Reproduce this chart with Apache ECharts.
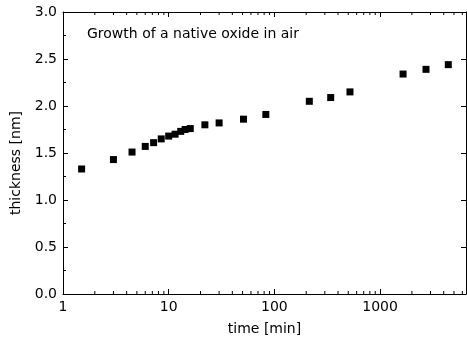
<!DOCTYPE html>
<html>
<head>
<meta charset="utf-8">
<script src="https://cdn.jsdelivr.net/npm/echarts@6/dist/echarts.min.js"></script>
<style>html,body{margin:0;padding:0;background:#fff}#c{width:467px;height:341px}</style>
</head>
<body>
<div id="c"></div>
<script>
var timeMin = [1.5, 3, 4.5, 6, 7.2, 8.5, 10, 11.5, 13, 14.3, 16, 22, 30, 51, 83, 214, 341, 519, 1650, 2720, 4420];
var thicknessNm = [1.33, 1.43, 1.51, 1.57, 1.61, 1.65, 1.68, 1.70, 1.73, 1.75, 1.76, 1.80, 1.82, 1.86, 1.91, 2.05, 2.09, 2.15, 2.34, 2.39, 2.44];
var xTickLabels = ['1', '10', '100', '1000'];
var yTickLabels = ['0.0', '0.5', '1.0', '1.5', '2.0', '2.5', '3.0'];
var chartTitle = 'Growth of a native oxide in air';
var xName = 'time [min]';
var yName = 'thickness [nm]';

var X_MIN = 1, X_MAX = 6500, Y_MIN = 0, Y_MAX = 3;
var FONT = 'DejaVu Sans';

var pts = timeMin.map(function (t, i) { return [t, thicknessNm[i]]; });
var minor = [];
for (var d = 1; d <= 1000; d *= 10) {
  for (var k = 2; k <= 9; k++) { if (k * d < X_MAX) minor.push(k * d); }
}
var minorBottom = minor.map(function (v) { return [v, Y_MIN]; });
var minorTop = minor.map(function (v) { return [v, Y_MAX]; });

var axisCol = '#000';
var lineCfg = { show: true, onZero: false, lineStyle: { color: axisCol, width: 1 } };
var chart = echarts.init(document.getElementById('c'), null, { renderer: 'canvas' });
chart.setOption({
  animation: false,
  backgroundColor: '#fff',
  grid: { left: 63, right: 1, top: 12, bottom: 46, containLabel: false },
  graphic: [{
    type: 'text', left: 87, top: 27,
    style: { text: chartTitle, font: '14px "' + FONT + '"', fill: '#000' }
  }],
  xAxis: [{
    type: 'log', logBase: 10, min: X_MIN, max: X_MAX, position: 'bottom',
    axisLine: lineCfg,
    axisTick: { show: true, inside: true, length: 5, lineStyle: { color: axisCol, width: 1 } },
    splitLine: { show: false },
    axisLabel: {
      color: '#000', fontFamily: FONT, fontSize: 14, margin: 6, showMaxLabel: false,
      formatter: function (v) {
        var i = Math.round(Math.log10(v));
        return Math.abs(Math.log10(v) - i) < 1e-6 && xTickLabels[i] !== undefined ? xTickLabels[i] : '';
      }
    },
    name: xName, nameLocation: 'middle', nameGap: 28,
    nameTextStyle: { color: '#000', fontFamily: FONT, fontSize: 14 }
  }, {
    type: 'log', logBase: 10, min: X_MIN, max: X_MAX, position: 'top',
    axisLine: lineCfg,
    axisTick: { show: true, inside: true, length: 5, lineStyle: { color: axisCol, width: 1 } },
    axisLabel: { show: false }, splitLine: { show: false }
  }],
  yAxis: [{
    type: 'value', min: Y_MIN, max: Y_MAX, interval: 0.5, position: 'left',
    axisLine: lineCfg,
    axisTick: { show: true, inside: true, length: 5, lineStyle: { color: axisCol } },
    minorTick: { show: true, splitNumber: 2, length: 3, lineStyle: { color: axisCol } },
    splitLine: { show: false },
    axisLabel: {
      color: '#000', fontFamily: FONT, fontSize: 14, margin: 6,
      formatter: function (v) { return yTickLabels[Math.round(v / 0.5)]; }
    },
    name: yName, nameLocation: 'middle', nameGap: 38,
    nameTextStyle: { color: '#000', fontFamily: FONT, fontSize: 14, padding: [0, 20, 0, 0] }
  }, {
    type: 'value', min: Y_MIN, max: Y_MAX, interval: 0.5, position: 'right',
    axisLine: lineCfg,
    axisTick: { show: true, inside: true, length: 5, lineStyle: { color: axisCol } },
    axisLabel: { show: false }, splitLine: { show: false }
  }],
  series: [{
    type: 'scatter', xAxisIndex: 0, yAxisIndex: 0, data: pts,
    symbol: 'rect', symbolSize: 7, itemStyle: { color: '#000', opacity: 1 }
  }, {
    type: 'scatter', xAxisIndex: 0, yAxisIndex: 0, data: minorBottom, silent: true, clip: false,
    symbol: 'rect', symbolSize: [1, 3], symbolOffset: [0, -1.5], itemStyle: { color: axisCol, opacity: 1 }
  }, {
    type: 'scatter', xAxisIndex: 0, yAxisIndex: 0, data: minorTop, silent: true, clip: false,
    symbol: 'rect', symbolSize: [1, 3], symbolOffset: [0, 1.5], itemStyle: { color: axisCol, opacity: 1 }
  }]
});
</script>
</body>
</html>
